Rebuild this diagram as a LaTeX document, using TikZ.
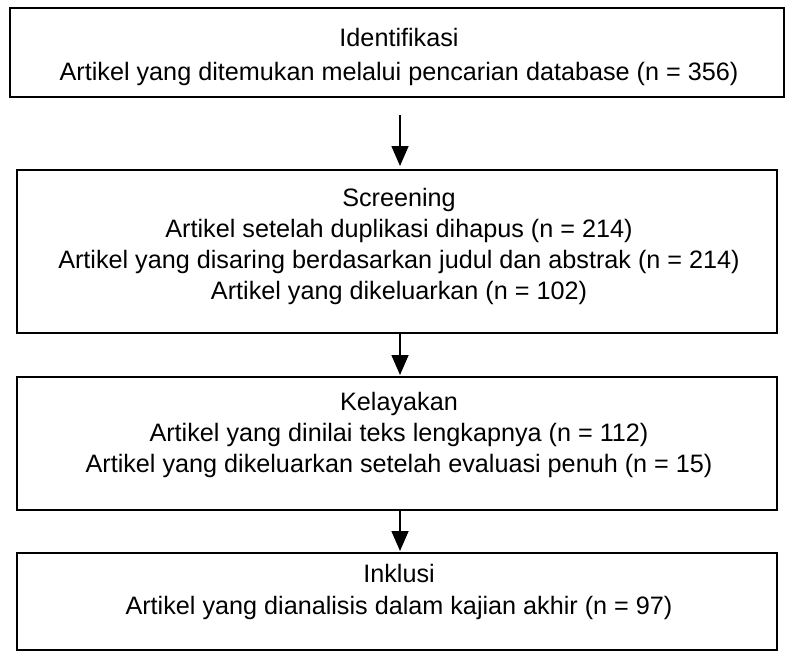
\documentclass[tikz,border=0pt]{standalone}
\usepackage{fontspec}
\setmainfont{Liberation Sans}
\usetikzlibrary{arrows.meta}
\begin{document}
\begin{tikzpicture}[x=1pt,y=-1pt,
  stagebox/.style={draw=black, line width=1.6pt, rectangle, inner sep=0pt},
  txt/.style={anchor=base, inner sep=0pt, font=\fontsize{25.2}{30}\selectfont},
  flow/.style={line width=1.6pt, -{Triangle[width=17pt,length=20pt]}}]
\useasboundingbox (0,0) rectangle (794,661);
% boxes
\node[stagebox, minimum width=774pt, minimum height=89pt] (b1) at (397,52.5) {};
\node[stagebox, minimum width=760pt, minimum height=163pt] (b2) at (397,251.5) {};
\node[stagebox, minimum width=760pt, minimum height=133pt] (b3) at (397,443.5) {};
\node[stagebox, minimum width=760pt, minimum height=97pt] (b4) at (397,601.5) {};
% texts
\node[txt] (t11) at (399,47) {Identifikasi};
\node[txt] (t12) at (399,81) {Artikel yang ditemukan melalui pencarian database (n = 356)};
\node[txt] (t21) at (399,206) {Screening};
\node[txt] (t22) at (399,237) {Artikel setelah duplikasi dihapus (n = 214)};
\node[txt] (t23) at (399,268) {Artikel yang disaring berdasarkan judul dan abstrak (n = 214)};
\node[txt] (t24) at (399,299) {Artikel yang dikeluarkan (n = 102)};
\node[txt] (t31) at (399,410) {Kelayakan};
\node[txt] (t32) at (399,441) {Artikel yang dinilai teks lengkapnya (n = 112)};
\node[txt] (t33) at (399,472) {Artikel yang dikeluarkan setelah evaluasi penuh (n = 15)};
\node[txt] (t41) at (399,582) {Inklusi};
\node[txt] (t42) at (399,614) {Artikel yang dianalisis dalam kajian akhir (n = 97)};
% arrows
\coordinate (a1s) at (400,115);
\coordinate (a1e) at (400,166);
\coordinate (a2s) at (400,333);
\coordinate (a2e) at (400,375);
\coordinate (a3s) at (400,510);
\coordinate (a3e) at (400,551);
\draw[flow] (a1s) -- (a1e);
\draw[flow] (a2s) -- (a2e);
\draw[flow] (a3s) -- (a3e);
\end{tikzpicture}
\end{document}
